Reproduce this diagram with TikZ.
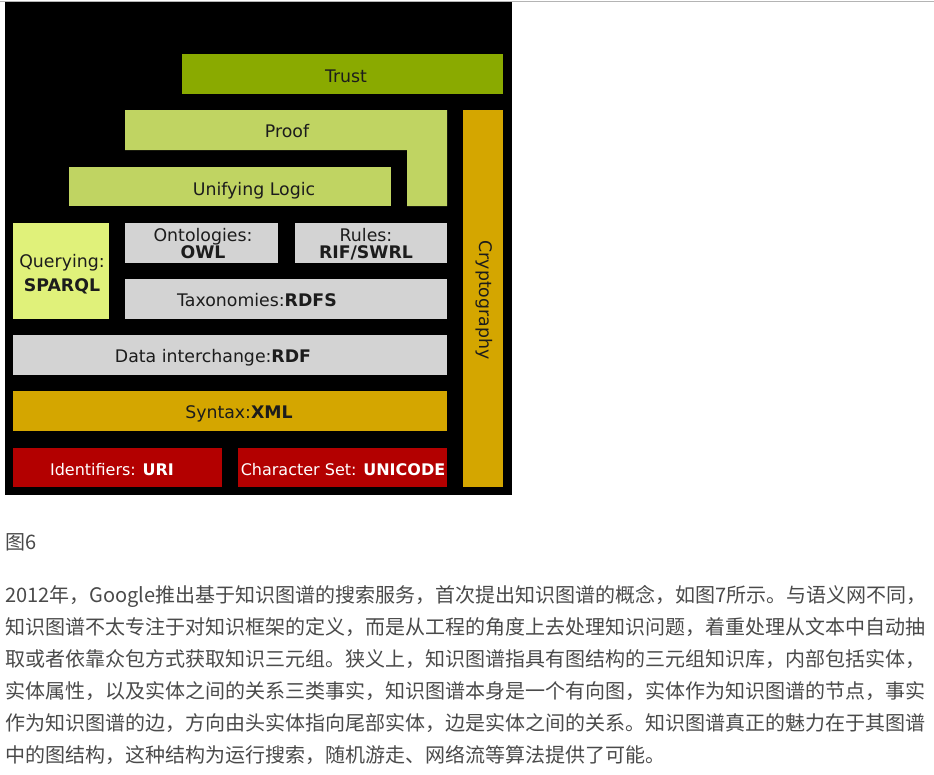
\documentclass[tikz,border=0pt]{standalone}
\usepackage{fontspec}
\setsansfont{DejaVu Sans}
\newfontfamily\cjk{Noto Sans CJK SC}
\definecolor{trustgreen}{HTML}{8AAA00}
\definecolor{proofgreen}{HTML}{C0D462}
\definecolor{querygreen}{HTML}{E0F17A}
\definecolor{layergray}{HTML}{D3D3D3}
\definecolor{cryptogold}{HTML}{D4A600}
\definecolor{urired}{HTML}{B30000}
\definecolor{labeldark}{HTML}{1C1C1C}
\definecolor{paragray}{HTML}{4A4A4A}
\definecolor{rulegray}{HTML}{B4B4B4}
\tikzset{
  lbl/.style={font=\sffamily\fontsize{13}{15}\selectfont, text=labeldark, anchor=base, inner sep=0pt},
  redlbl/.style={lbl, font=\sffamily\fontsize{12}{14}\selectfont, text=white},
  para/.style={font=\cjk\fontsize{15}{18}\selectfont, text=paragray, anchor=base west, inner sep=0pt}
}
\begin{document}
\begin{tikzpicture}[x=0.75pt,y=-0.75pt]
    \useasboundingbox (0,0) rectangle (934,774);
    \fill [white] (0,0) rectangle (934,774);
    \draw [rulegray] (0,1) -- (934,1);
    \fill [black] (5,2) rectangle (512,495);
    % layers
    \fill [trustgreen] (182,54) rectangle (503,94);
    \fill [proofgreen] (125,110) -- (447,110) -- (447,206) -- (407,206) -- (407,150) -- (125,150) -- cycle;
    \fill [proofgreen] (69,167) rectangle (391,206);
    \fill [cryptogold] (463,110) rectangle (503,487);
    \fill [querygreen] (13,223) rectangle (109,319);
    \fill [layergray] (125,223) rectangle (278,263);\fill [layergray] (295,223) rectangle (447,263);
    \fill [layergray] (125,279) rectangle (447,319);
    \fill [layergray] (13,335) rectangle (447,375);
    \fill [cryptogold] (13,391) rectangle (447,431);
    \fill [urired] (13,448) rectangle (222,487);\fill [urired] (238,448) rectangle (447,487);
    % labels
    \node [lbl] (trust) at (346,82) {Trust};
    \node [lbl] (proof) at (287,137) {Proof};
    \node [lbl] (logic) at (254,195) {Unifying Logic};
    \node [lbl] (ontotop) at (203,241) {Ontologies:};\node [lbl] (ontoowl) at (203,258) {\textbf{OWL}};
    \node [lbl] (rulestop) at (366,241) {Rules:};\node [lbl] (rulesrif) at (366,258) {\textbf{RIF/SWRL}};
    \node [lbl] (querytop) at (62,267) {Querying:};\node [lbl] (querysparql) at (62,291) {\textbf{SPARQL}};
    \node [lbl] (rdfs) at (257,306) {Taxonomies:\textbf{RDFS}};
    \node [lbl] (rdf) at (213,362) {Data interchange:\textbf{RDF}};
    \node [lbl] (xml) at (239,418) {Syntax:\textbf{XML}};
    \node [redlbl] (uri) at (112,475) {Identifiers: \textbf{URI}};
    \node [redlbl] (unicode) at (343,475) {Character Set: \textbf{UNICODE}};
    \node [lbl, anchor=center, rotate=-90] (crypto) at (484.5,300) {Cryptography};
    % text
    \node [para] (fig) at (5,549.5) {图6};
    \node [para] (line1) at (5,602.5) {2012年，Google推出基于知识图谱的搜索服务，首次提出知识图谱的概念，如图7所示。与语义网不同，};
    \node [para] (line2) at (5,634.5) {知识图谱不太专注于对知识框架的定义，而是从工程的角度上去处理知识问题，着重处理从文本中自动抽};
    \node [para] (line3) at (5,666.5) {取或者依靠众包方式获取知识三元组。狭义上，知识图谱指具有图结构的三元组知识库，内部包括实体，};
    \node [para] (line4) at (5,698.5) {实体属性，以及实体之间的关系三类事实，知识图谱本身是一个有向图，实体作为知识图谱的节点，事实};
    \node [para] (line5) at (5,730.5) {作为知识图谱的边，方向由头实体指向尾部实体，边是实体之间的关系。知识图谱真正的魅力在于其图谱};
    \node [para] (line6) at (5,762.5) {中的图结构，这种结构为运行搜索，随机游走、网络流等算法提供了可能。};
\end{tikzpicture}
\end{document}
